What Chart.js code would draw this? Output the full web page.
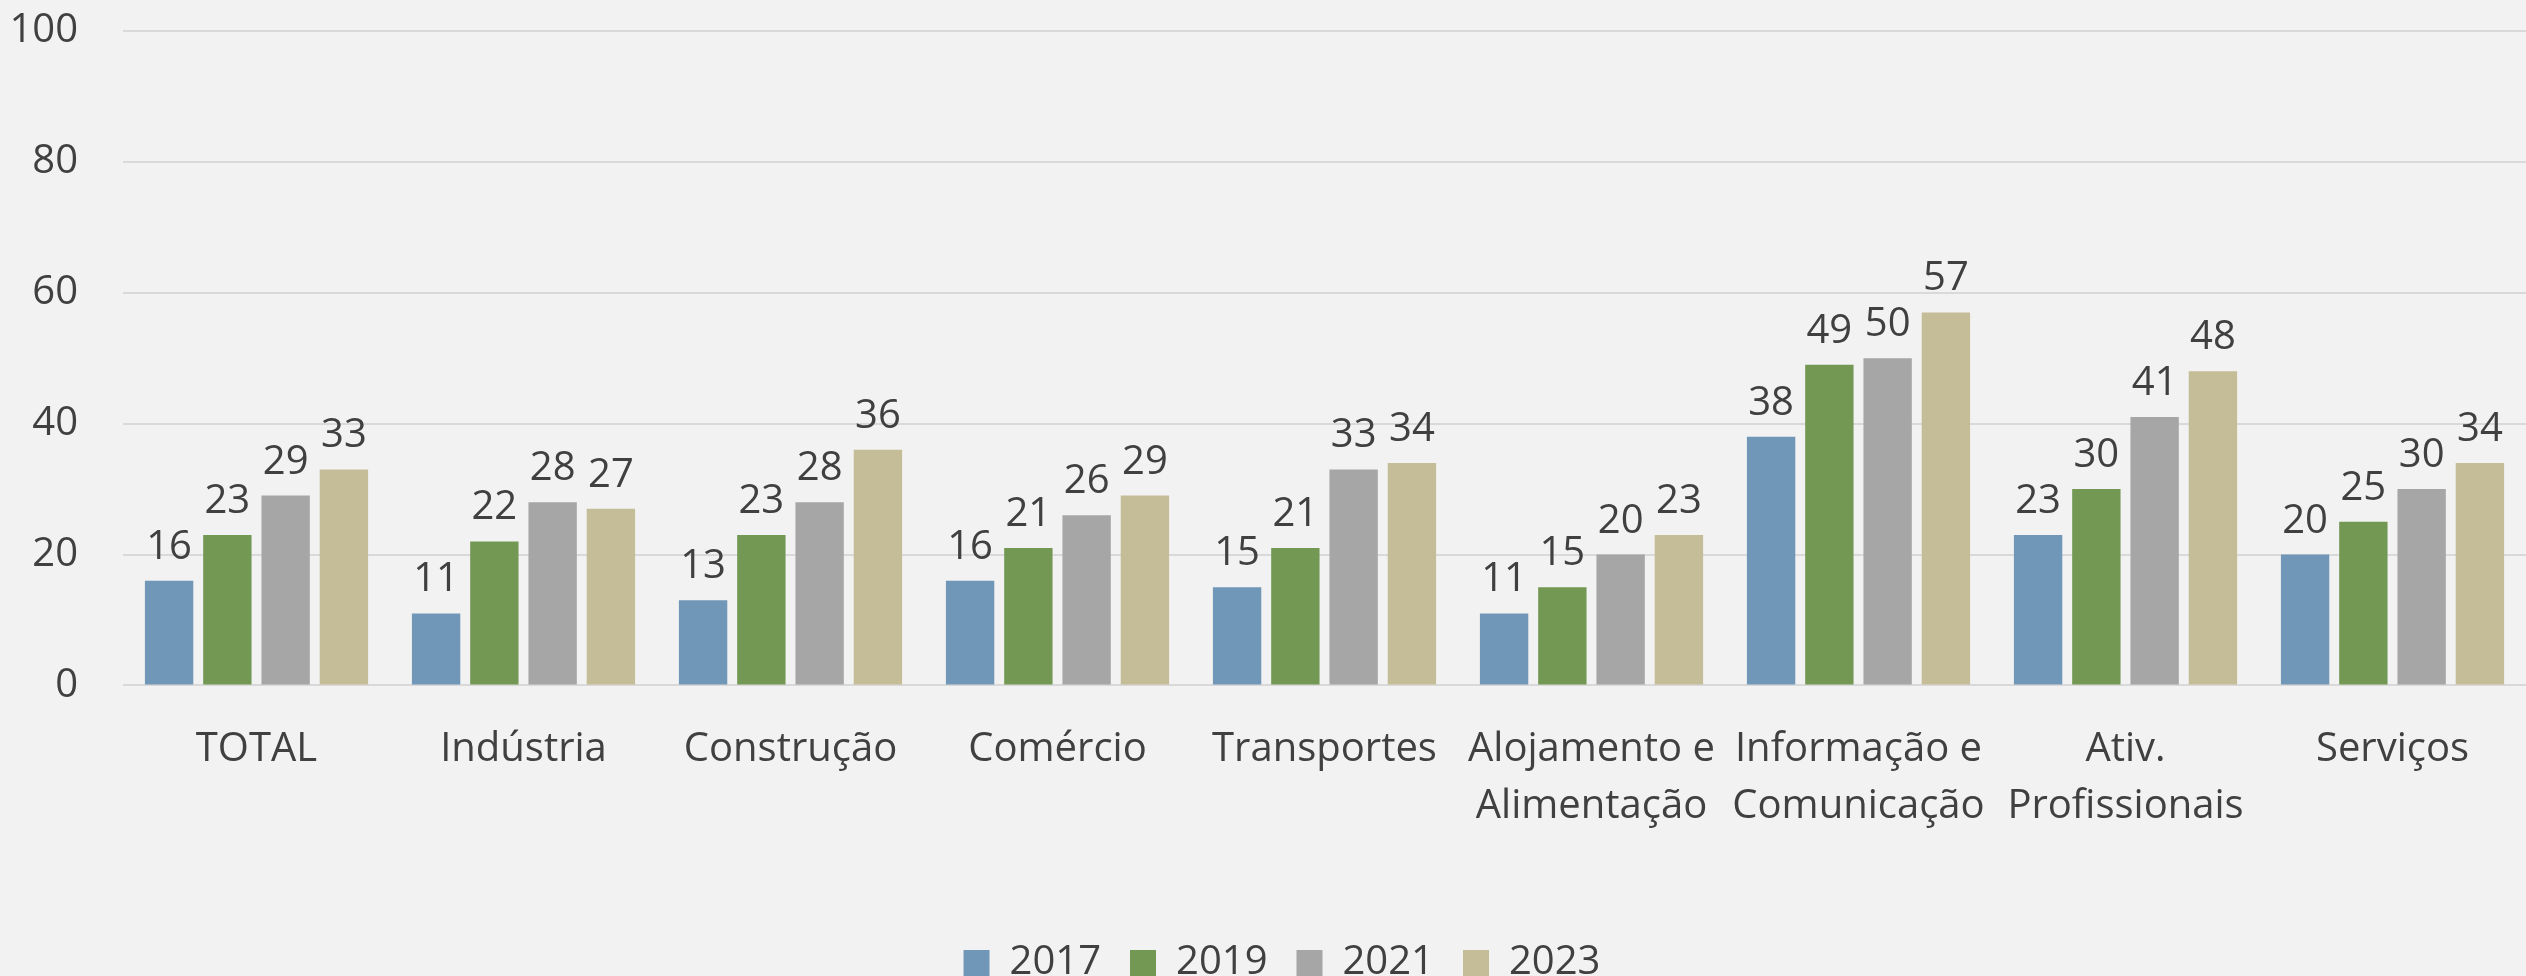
<!DOCTYPE html>
<html>
<head>
<meta charset="utf-8">
<script src="https://cdn.jsdelivr.net/npm/chart.js@4"></script>
<style>
  html, body { margin: 0; padding: 0; background: #f2f2f2; }
  canvas { display: block; }
</style>
</head>
<body>
<canvas id="chart" width="2526" height="976"></canvas>
<script>
// categories and series
const categories = [
  "TOTAL", "Indústria", "Construção", "Comércio", "Transportes",
  ["Alojamento e", "Alimentação"], ["Informação e", "Comunicação"],
  ["Ativ.", "Profissionais"], "Serviços"
];
const years = ["2017", "2019", "2021", "2023"];
const v2017 = [16, 11, 13, 16, 15, 11, 38, 23, 20];
const v2019 = [23, 22, 23, 21, 21, 15, 49, 30, 25];
const v2021 = [29, 28, 28, 26, 33, 20, 50, 41, 30];
const v2023 = [33, 27, 36, 29, 34, 23, 57, 48, 34];
const yTicks = [0, 20, 40, 60, 80, 100];

const colors = ["#7097b8", "#729853", "#a6a6a6", "#c5bd97"];

Chart.defaults.font.family = "'Open Sans', 'Noto Sans', sans-serif";
Chart.defaults.font.size = 40;
Chart.defaults.color = "#404040";

// value labels above each bar
const barValues = {
  id: "barValues",
  afterDatasetsDraw(chart) {
    const { ctx } = chart;
    ctx.save();
    ctx.font = "40px 'Open Sans', 'Noto Sans', sans-serif";
    ctx.fillStyle = "#404040";
    ctx.textAlign = "center";
    ctx.textBaseline = "alphabetic";
    chart.data.datasets.forEach((ds, i) => {
      const meta = chart.getDatasetMeta(i);
      meta.data.forEach((bar, j) => {
        ctx.fillText(Math.round(ds.data[j]), bar.x, bar.y - 22);
      });
    });
    ctx.restore();
  }
};

// legend sits a bit right of the canvas centre in the original
const legendShift = {
  id: "legendShift",
  afterLayout(chart) {
    chart.legend.left += 19;
    chart.legend.right += 19;
  }
};

const seriesValues = [v2017, v2019, v2021, v2023];

new Chart(document.getElementById("chart"), {
  type: "bar",
  data: {
    labels: categories,
    datasets: years.map((y, i) => ({
      label: y,
      data: seriesValues[i],
      backgroundColor: colors[i],
      borderWidth: 0,
      categoryPercentage: 0.873,
      barPercentage: 0.83
    }))
  },
  plugins: [barValues, legendShift],
  options: {
    responsive: false,
    animation: false,
    layout: {
      padding: { top: 31, right: 0, left: 0, bottom: -17 }
    },
    plugins: {
      legend: {
        position: "bottom",
        labels: {
          boxWidth: 26,
          boxHeight: 26,
          padding: 29,
          font: { size: 40 }
        }
      },
      tooltip: { enabled: false }
    },
    scales: {
      x: {
        afterFit(scale) { scale.height += 51; },
        grid: { display: false },
        border: { display: false },
        ticks: {
          autoSkip: false,
          maxRotation: 0,
          padding: 28,
          font: { size: 40, lineHeight: 1.42 }
        }
      },
      y: {
        min: 0,
        max: 100,
        afterFit(scale) {
          scale.width = 123;
          scale.paddingTop = 0;
          scale.paddingBottom = 0;
        },
        afterBuildTicks(scale) { scale.ticks = yTicks.map(v => ({ value: v })); },
        grid: { color: "#d9d9d9", lineWidth: 2, drawTicks: false },
        border: { display: false },
        ticks: { padding: 45, font: { size: 40 } }
      }
    }
  }
});
</script>
</body>
</html>
